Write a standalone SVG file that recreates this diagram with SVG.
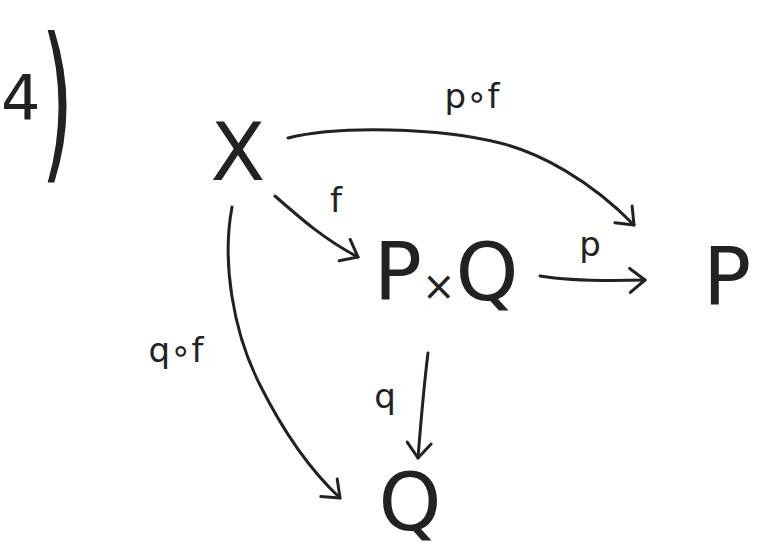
<svg xmlns="http://www.w3.org/2000/svg" width="767" height="550" viewBox="0 0 767 550">
<defs>
<style>
.node{font-family:"DejaVu Sans","Liberation Sans",sans-serif;fill:#222;font-size:80px}
.lbl{font-family:"DejaVu Sans","Liberation Sans",sans-serif;fill:#222;font-size:34px}
.edge{fill:none;stroke:#222;stroke-width:3;stroke-linecap:round;stroke-linejoin:round}
</style>
<marker id="ah" viewBox="0 0 20 30" refX="18" refY="15" markerWidth="20" markerHeight="30" markerUnits="userSpaceOnUse" orient="auto">
<path d="M3,3 L18,15 L3,27" fill="none" stroke="#222" stroke-width="3" stroke-linecap="round" stroke-linejoin="round"/>
</marker>
</defs>
<rect width="767" height="550" fill="#fff"/>
<g id="title">
<text class="node" x="1" y="120" style="font-size:62px">4</text>
<text class="node" transform="translate(41,160) scale(1.4,2.85)" style="font-size:60px">)</text>
</g>
<g id="connectors">
<path class="edge" marker-end="url(#ah)" d="M288,138 C340,125 440,128 500,143 C540,153 590,180 634,225"/>
<path class="edge" marker-end="url(#ah)" d="M275,196 C300,218 325,240 358,257"/>
<path class="edge" marker-end="url(#ah)" d="M540,276 C570,281 610,281 645,280"/>
<path class="edge" marker-end="url(#ah)" d="M428,353 C424,385 421,420 418,458"/>
<path class="edge" marker-end="url(#ah)" d="M232,207 C222,260 232,330 260,385 C285,435 310,470 340,498"/>
</g>
<g id="node-X"><text class="node" x="238" y="180" text-anchor="middle">X</text></g>
<g id="node-PxQ"><text class="node" x="446" y="300" text-anchor="middle">P<tspan style="font-size:40px">×</tspan>Q</text></g>
<g id="node-P"><text class="node" x="703" y="305">P</text></g>
<g id="node-Q"><text class="node" x="410" y="530" text-anchor="middle">Q</text></g>
<g id="labels">
<text class="lbl" x="472" y="108" text-anchor="middle">p∘f</text>
<text class="lbl" x="336" y="212" text-anchor="middle">f</text>
<text class="lbl" x="590" y="256" text-anchor="middle">p</text>
<text class="lbl" x="176" y="362" text-anchor="middle">q∘f</text>
<text class="lbl" x="385" y="408" text-anchor="middle">q</text>
</g>
</svg>
